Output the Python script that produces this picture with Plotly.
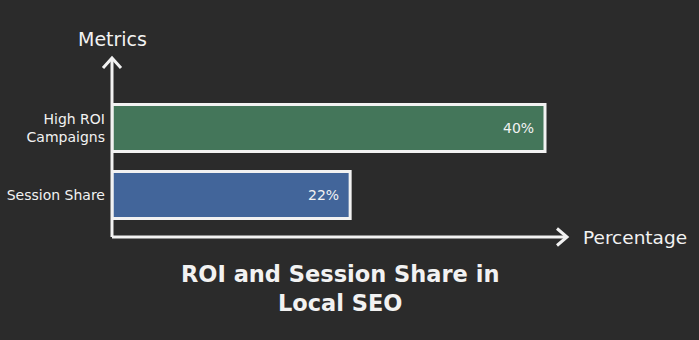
import plotly.graph_objects as go

categories = ["Session Share", "High ROI<br>Campaigns"]
values = [22, 40]
labels = ["22%", "40%"]
colors = ["#42659a", "#44765a"]

BG = "#2b2b2b"
FG = "#f2f2f2"
FONT = "DejaVu Sans"

fig = go.Figure(go.Bar(
    y=categories, x=values, orientation="h",
    marker=dict(color=colors, line=dict(color=FG, width=3)),
    width=0.7, hoverinfo="skip",
))

W, H = 699, 340
L, R, T, B = 112, 132, 58, 103
pw, ph = W - L - R, H - T - B

shapes = []
line = dict(color=FG, width=3)
shapes.append(dict(type="line", xref="paper", yref="paper", x0=0, y0=0, x1=0, y1=1, line=line))
shapes.append(dict(type="line", xref="paper", yref="paper", x0=0, y0=0, x1=1, y1=0, line=line))
dx, dy = 9 / pw, 10 / ph
shapes.append(dict(type="path", xref="paper", yref="paper",
                   path=f"M {-dx} {1-dy} L 0 1 L {dx} {1-dy}", line=line))
dx2, dy2 = 10 / pw, 8.5 / ph
shapes.append(dict(type="path", xref="paper", yref="paper",
                   path=f"M {1-dx2} {dy2} L 1 0 L {1-dx2} {-dy2}", line=line))

annotations = [
    dict(text="Metrics", x=0, y=1, xref="paper", yref="paper", xanchor="center",
         yanchor="bottom", yshift=6, showarrow=False, font=dict(size=19, color=FG, family=FONT)),
    dict(text="Percentage", x=1, y=0, xref="paper", yref="paper", xanchor="left",
         yanchor="middle", xshift=14, showarrow=False, font=dict(size=18.5, color=FG, family=FONT)),
    dict(text="<b>ROI and Session Share in<br>Local SEO</b>", x=0.5, y=0, xref="paper", yref="paper",
         xanchor="center", yanchor="top", yshift=-22, showarrow=False,
         font=dict(size=22.5, color=FG, family=FONT)),
]
for c, v, t in zip(categories, values, labels):
    annotations.append(dict(text=t, x=v, y=c, xref="x", yref="y", xanchor="right",
                            yanchor="middle", xshift=-9, showarrow=False,
                            font=dict(size=14, color=FG, family=FONT)))

fig.update_layout(
    width=W, height=H,
    margin=dict(l=L, r=R, t=T, b=B, autoexpand=False),
    paper_bgcolor=BG, plot_bgcolor=BG,
    showlegend=False,
    shapes=shapes, annotations=annotations,
    xaxis=dict(range=[0, pw / 10.825], showgrid=False, zeroline=False, automargin=False,
               showticklabels=False, showline=False, fixedrange=True),
    yaxis=dict(range=[-0.627, 2.045], showgrid=False, zeroline=False, automargin=False,
               showline=False, ticks="", ticklabelstandoff=6,
               tickfont=dict(size=14, color=FG, family=FONT), fixedrange=True),
)

fig.write_html("out.html")
